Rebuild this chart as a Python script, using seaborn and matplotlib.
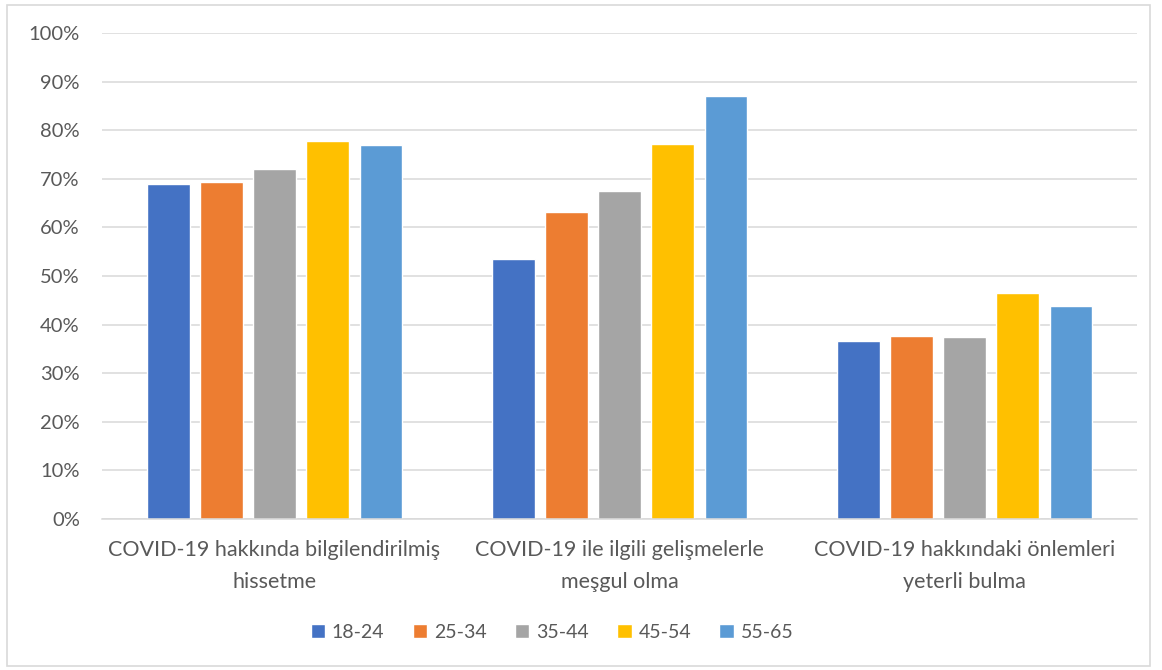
import numpy as np
import pandas as pd
from matplotlib import pyplot as plt
from matplotlib.patches import Rectangle
import seaborn as sns

# categories and series values (shares, %)
categories = ['COVID-19 hakkında bilgilendirilmiş\nhissetme',
              'COVID-19 ile ilgili gelişmelerle\nmeşgul olma',
              'COVID-19 hakkındaki önlemleri\nyeterli bulma']
age_groups = ['18-24', '25-34', '35-44', '45-54', '55-65']
v_18_24 = [68.9, 53.4, 36.6]
v_25_34 = [69.4, 63.2, 37.7]
v_35_44 = [72.0, 67.4, 37.4]
v_45_54 = [77.8, 77.1, 46.6]
v_55_65 = [76.9, 87.0, 43.8]
y_ticks = [0, 10, 20, 30, 40, 50, 60, 70, 80, 90, 100]

series = [v_18_24, v_25_34, v_35_44, v_45_54, v_55_65]
rows = []
for grp, vals in zip(age_groups, series):
    for cat, v in zip(categories, vals):
        rows.append({'kategori': cat, 'yas': grp, 'deger': v})
df = pd.DataFrame(rows)

colors = ['#4472C4', '#ED7D31', '#A5A5A5', '#FFC000', '#5B9BD5']
txt = '#595959'

sns.set_style('white')
plt.rcParams['font.family'] = ['Lato', 'DejaVu Sans']

fig = plt.figure(figsize=(11.62, 6.70), dpi=100)
ax = fig.add_axes([0.0878, 0.2254, 0.8907, 0.7253])

sns.barplot(data=df, x='kategori', y='deger', hue='yas',
            order=categories, hue_order=age_groups, palette=colors,
            width=0.77, gap=0.2, saturation=1, ax=ax, legend=True)

ax.set_ylim(0, 100)
ax.set_xlim(-0.5, 2.5)
ax.set_yticks(y_ticks)
ax.set_yticklabels([f'{t}%' for t in y_ticks])
ax.yaxis.grid(True, color='#d9d9d9', linewidth=1.1)
ax.set_axisbelow(True)
ax.set_xlabel('')
ax.set_ylabel('')
for s in ['top', 'right', 'left']:
    ax.spines[s].set_visible(False)
ax.spines['bottom'].set_color('#d9d9d9')
ax.spines['bottom'].set_linewidth(1.1)
ax.tick_params(axis='both', length=0, colors=txt)
ax.tick_params(axis='y', labelsize=14.5, pad=16)
ax.tick_params(axis='x', labelsize=15.5, pad=15)
for lab in ax.get_xticklabels():
    lab.set_linespacing(1.75)

ax.legend_.remove()
handles, labels = ax.get_legend_handles_labels()
fig.legend(handles, labels, loc='center', bbox_to_anchor=(552 / 1162, 1 - 632 / 670),
           ncol=5, frameon=False, fontsize=14, labelcolor=txt,
           handlelength=0.75, handleheight=0.75, handletextpad=0.35,
           columnspacing=1.45)

# outer chart border
fig.patches.append(Rectangle((7 / 1162, 4 / 670), 1143 / 1162, 661 / 670,
                             transform=fig.transFigure, fill=False,
                             edgecolor='#d9d9d9', linewidth=1.2))

plt.savefig('out.png', dpi=100)
